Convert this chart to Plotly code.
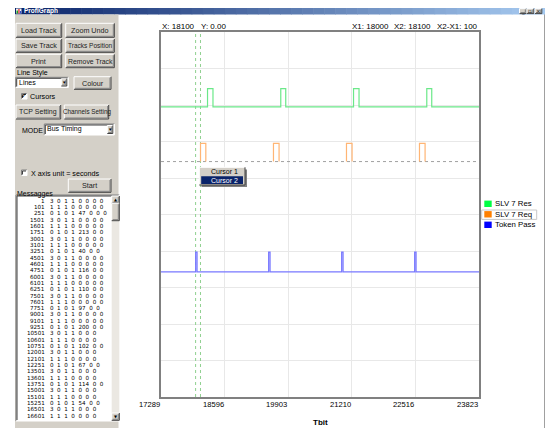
import plotly.graph_objects as go

# ---------------- data ----------------
x_tick_vals = [17289, 18596, 19903, 21210, 22516, 23823]
x_title = "Tbit"
series_names = ["SLV 7 Res", "SLV 7 Req", "Token Pass"]

res_rise = [18245, 19750, 21245, 22750]
res_fall = [18357, 19852, 21358, 22852]
res_low, res_high = 7.95, 8.45

req_rise = [18101, 19600, 21100, 22600]
req_fall = [18210, 19715, 21215, 22715]
req_low, req_high = 6.45, 6.95

tok_rise = [18001, 19501, 21001, 22501]
tok_fall = [18030, 19530, 21030, 22530]
tok_low, tok_high = 3.43, 3.97

cursor_x1, cursor_x2 = 18000, 18100
cursor_y = 0.00

message_times = [1, 101, 251, 1501, 1601, 1751, 3001, 3101, 3251, 4501, 4601, 4751,
                 6001, 6101, 6251, 7501, 7601, 7751, 9001, 9101, 9251, 10501, 10601,
                 10751, 12001, 12101, 12251, 13501, 13601, 13751, 15001, 15101, 15251,
                 16501, 16601]
message_fields = [
    "3 0 1 1 0 0 0 0", "1 1 1 0 0 0 0 0", "0 1 0 1 47 0 0 0",
    "3 0 1 1 0 0 0 0", "1 1 1 0 0 0 0 0", "0 1 0 1 213 0 0",
    "3 0 1 1 0 0 0 0", "1 1 1 0 0 0 0 0", "0 1 0 1 40 0 0",
    "3 0 1 1 0 0 0 0", "1 1 1 0 0 0 0 0", "0 1 0 1 116 0 0",
    "3 0 1 1 0 0 0 0", "1 1 1 0 0 0 0 0", "0 1 0 1 110 0 0",
    "3 0 1 1 0 0 0 0", "1 1 1 0 0 0 0 0", "0 1 0 1 97 0 0",
    "3 0 1 1 0 0 0 0", "1 1 1 0 0 0 0 0", "0 1 0 1 200 0 0",
    "3 0 1 1 0 0 0", "1 1 1 0 0 0 0", "0 1 0 1 102 0 0",
    "3 0 1 1 0 0 0", "1 1 1 0 0 0 0", "0 1 0 1 67 0 0",
    "3 0 1 1 0 0 0", "1 1 1 0 0 0 0", "0 1 0 1 114 0 0",
    "3 0 1 1 0 0 0", "1 1 1 0 0 0 0", "0 1 0 1 54 0 0",
    "3 0 1 1 0 0 0", "1 1 1 0 0 0 0",
]

# ---------------- geometry / style ----------------
# screen coordinates: the page body has an 8px margin, so the figure is 8px smaller
BODY = 8
SW, SH = 553, 428
W, H = SW - BODY, SH - BODY
PL, PR, PT, PB = 161, 479, 32, 397          # plot box in screen pixels
ML, MR, MT, MB = PL - BODY, SW - PR, PT - BODY, SH - PB
PW, PH = PR - PL, PB - PT
FONT = "Liberation Sans"
PANEL = "#d4d0c8"
C_RES, C_REQ, C_TOK = "#6be889", "#ffb574", "#7878ff"


def fx(p):
    return (p - PL) / PW


def fy(p):
    return (PB - p) / PH


shapes, anns = [], []


def rect(x0, y0, x1, y1, fill, line=None, lw=1, dash="solid"):
    shapes.append(dict(type="rect", xref="paper", yref="paper",
                       x0=fx(x0), x1=fx(x1), y0=fy(y1), y1=fy(y0),
                       fillcolor=fill,
                       line=dict(color=line if line else fill, width=lw if line else 0, dash=dash)))


def seg(x0, y0, x1, y1, color, lw=1, dash="solid"):
    shapes.append(dict(type="line", xref="paper", yref="paper",
                       x0=fx(x0), y0=fy(y0), x1=fx(x1), y1=fy(y1),
                       line=dict(color=color, width=lw, dash=dash)))


def text(x, y, s, size=8, color="#000000", anchor="left", bold=False, family=FONT):
    anns.append(dict(xref="paper", yref="paper", x=fx(x), y=fy(y),
                     text=f"<b>{s}</b>" if bold else s, showarrow=False,
                     xanchor=anchor, yanchor="middle", borderpad=0,
                     font=dict(size=size, color=color, family=family)))


def raised(x0, y0, x1, y1):
    rect(x0, y0, x1, y1, PANEL)
    seg(x0, y0, x1, y0, "#ffffff")
    seg(x0, y0, x0, y1, "#ffffff")
    seg(x0, y1, x1, y1, "#404040")
    seg(x1, y0, x1, y1, "#404040")
    seg(x0 + 1, y1 - 1, x1 - 1, y1 - 1, "#808080")
    seg(x1 - 1, y0 + 1, x1 - 1, y1 - 1, "#808080")


def button(x0, y0, x1, y1, label, size=7.2):
    raised(x0, y0, x1, y1)
    text((x0 + x1) / 2, (y0 + y1) / 2, label, size=size, color="#222222", anchor="center")


def sunken(x0, y0, x1, y1, fill="#ffffff"):
    rect(x0, y0, x1, y1, fill)
    seg(x0, y0, x1, y0, "#808080")
    seg(x0, y0, x0, y1, "#808080")
    seg(x0 + 1, y0 + 1, x1 - 1, y0 + 1, "#404040")
    seg(x0 + 1, y0 + 1, x0 + 1, y1 - 1, "#404040")
    seg(x0, y1, x1, y1, "#ffffff")
    seg(x1, y0, x1, y1, "#ffffff")


def combo(x0, y0, x1, y1, label):
    sunken(x0, y0, x1, y1)
    text(x0 + 2, (y0 + y1) / 2, label, size=7)
    raised(x1 - 7, y0 + 1.5, x1 - 1.5, y1 - 1.5)
    text(x1 - 4.2, (y0 + y1) / 2 + 0.3, "▼", size=4.5, anchor="center")


def checkbox(x0, y0, size, checked):
    sunken(x0, y0, x0 + size, y0 + size)
    if checked:
        text(x0 + size / 2, y0 + size / 2, "✓", size=7, anchor="center", family="DejaVu Sans")


# ---- window right border ----
seg(544.5, 8, 544.5, 440, "#a0a0a0")

# ---- title bar (gradient approximated by strips) ----
c0, c1 = (10, 36, 106), (166, 202, 240)
n = 48
TB0, TB1 = 8, 14.5
for i in range(n):
    t = i / (n - 1)
    col = "rgb(%d,%d,%d)" % tuple(int(a + (b - a) * t) for a, b in zip(c0, c1))
    xa = 15 + (545 - 15) * i / n
    xb = 15 + (545 - 15) * (i + 1) / n + 0.6
    rect(xa, TB0, xb, TB1, col)
rect(16, 8.5, 21.5, 13.5, "#f0f0f0")
rect(16.5, 10.5, 18, 13.5, "#20a020")
rect(18.3, 9, 19.6, 13.5, "#e03030")
rect(19.9, 11, 21.2, 13.5, "#3050d0")
text(22.5, 11.4, "ProfiGraph", size=6.5, color="#ffffff", bold=True)
for (bx0, bx1, glyph) in [(519.5, 526.3, "_"), (526.8, 533.8, "▫"), (535, 541.8, "×")]:
    raised(bx0, 8.6, bx1, 13.6)
    text((bx0 + bx1) / 2, 11.1, glyph, size=5.5, anchor="center", family="DejaVu Sans")

# ---- left control panel ----
rect(15, TB1, 118.5, 440, PANEL)
button(16, 23.3, 61.7, 37.3, "Load Track")
button(65.7, 23.3, 114.3, 37.3, "Zoom Undo")
button(16, 39, 61.7, 52.3, "Save Track")
button(65.7, 39, 114.3, 52.3, "Tracks Position", size=6.5)
button(16, 54.3, 61.7, 67.7, "Print")
button(65.7, 54.3, 114.3, 67.7, "Remove Track", size=6.9)
text(15.5, 72.8, "Line Style", size=7)
combo(15.7, 77.3, 68.3, 87.5, "Lines")
button(74, 76.7, 111, 89.3, "Colour")
checkbox(21.5, 93.5, 5.5, True)
text(28.5, 96.5, "Cursors", size=7.2)
button(16, 105, 60.7, 119, "TCP Setting", size=7)
button(64.3, 105, 108.7, 119, "Channels Setting", size=6.3)
text(20.5, 130, "MODE", size=7)
combo(44.3, 124, 114.3, 135, "Bus Timing")
checkbox(21.5, 170, 5.5, False)
text(29.5, 173, "X axis unit = seconds", size=7.2)
button(68.3, 179, 111, 192.3, "Start")
text(15.5, 193.5, "Messagges", size=7)

# ---- message list box ----
sunken(16, 195, 119.3, 421)
rect(111.7, 203.3, 119.3, 413, "#ebe8e2")
raised(111.7, 196, 119.3, 203.3)
text(115.5, 199.8, "▲", size=4, anchor="center", family="DejaVu Sans")
raised(111.7, 203.3, 119.3, 220.7)
raised(111.7, 413, 119.3, 420.3)
text(115.5, 416.8, "▼", size=4, anchor="center", family="DejaVu Sans")
for i, (tm, fl) in enumerate(zip(message_times, message_fields)):
    yy = 200.7 + 6.32 * i
    text(45.5, yy, str(tm), size=5.6, anchor="right", family="DejaVu Sans")
    text(48.5, yy, fl.replace(" ", "  "), size=5.6, family="DejaVu Sans")

# ---- readouts above plot ----
text(160.5, 26.5, f"X: {cursor_x2}", size=8)
text(199.5, 26.5, f"Y: {cursor_y:.2f}", size=8)
text(351, 26.5, f"X1: {cursor_x1}", size=8)
text(393, 26.5, f"X2: {cursor_x2}", size=8)
text(478.5, 26.5, f"X2-X1: {cursor_x2 - cursor_x1}", size=8, anchor="right")

# ---- x tick labels (right-aligned at grid lines) and title ----
for v in x_tick_vals:
    anns.append(dict(xref="x", yref="paper", x=v, y=fy(405), text=str(v), showarrow=False,
                     xanchor="right", yanchor="middle", borderpad=0,
                     font=dict(size=7.6, family=FONT, color="#000000")))
text(320, 422.5, x_title, size=8, anchor="center", bold=True)

# ---- legend (drawn manually) ----
legend_cols = ["#00ff44", "#ff8000", "#0000ff"]
for i, (nm, col) in enumerate(zip(series_names, legend_cols)):
    yc = 203.8 + 10.5 * i
    rect(484.3, yc - 3.2, 491.7, yc + 3.2, col)
    text(494, yc, nm, size=7.8)
rect(481.7, 210, 536.7, 219.4, "rgba(0,0,0,0)", line="#c8c8c8", lw=1)

# ---- cursor popup menu ----
rect(201.5, 169.5, 247, 187, "#808080")
rect(199.3, 167.3, 245, 185, PANEL)
seg(199.3, 167.3, 245, 167.3, "#ffffff")
seg(199.3, 167.3, 199.3, 185, "#ffffff")
seg(199.3, 185, 245, 185, "#404040")
seg(245, 167.3, 245, 185, "#404040")
rect(201.2, 176.3, 243, 184, "#0a246a")
text(209.5, 171.3, "Cursor 1", size=7)
text(209.5, 180.2, "Cursor 2", size=7, color="#ffffff")


# ---------------- traces ----------------
def step(rises, falls, lo, hi, x0, x1):
    xs, ys = [x0], [lo]
    for r, f in zip(rises, falls):
        xs += [r, r, f, f]
        ys += [lo, hi, hi, lo]
    xs.append(x1)
    ys.append(lo)
    return xs, ys


def pulses_only(rises, falls, lo, hi):
    xs, ys = [], []
    for r, f in zip(rises, falls):
        xs += [r, r, f, f, None]
        ys += [lo, hi, hi, lo, None]
    return xs, ys


xmin, xmax = x_tick_vals[0], x_tick_vals[-1]
fig = go.Figure()

for cx in (cursor_x1, cursor_x2):
    fig.add_trace(go.Scatter(x=[cx, cx], y=[0, 10], mode="lines", hoverinfo="skip",
                             line=dict(color="#8fd08f", width=1, dash="dot"), showlegend=False))

gx, gy = step(res_rise, res_fall, res_low, res_high, xmin, xmax)
fig.add_trace(go.Scatter(x=gx, y=gy, mode="lines", name=series_names[0],
                         line=dict(color=C_RES, width=1.2), showlegend=False))

fig.add_trace(go.Scatter(x=[xmin, xmax], y=[req_low, req_low], mode="lines", hoverinfo="skip",
                         line=dict(color="#a0a0a0", width=1, dash="dot"), showlegend=False))
ox, oy = pulses_only(req_rise, req_fall, req_low, req_high)
fig.add_trace(go.Scatter(x=ox, y=oy, mode="lines", name=series_names[1],
                         line=dict(color=C_REQ, width=1.2), showlegend=False))

bx, by = step(tok_rise, tok_fall, tok_low, tok_high, xmin, xmax)
fig.add_trace(go.Scatter(x=bx, y=by, mode="lines", name=series_names[2],
                         line=dict(color=C_TOK, width=1.2), showlegend=False))

fig.update_layout(
    width=W, height=H, autosize=False,
    margin=dict(l=ML, r=MR, t=MT, b=MB, pad=0),
    paper_bgcolor="#ffffff", plot_bgcolor="#ffffff",
    shapes=shapes, annotations=anns,
    font=dict(family=FONT, size=8, color="#000000"),
    xaxis=dict(range=[xmin, xmax], tickvals=x_tick_vals, showticklabels=False, ticks="",
               showgrid=True, gridcolor="#e8e8e8", gridwidth=1, zeroline=False,
               showline=True, mirror=True, linecolor="#808080", linewidth=1.5, fixedrange=True),
    yaxis=dict(range=[0, 10], tick0=0, dtick=1, showticklabels=False, ticks="",
               showgrid=True, gridcolor="#e8e8e8", gridwidth=1, zeroline=False,
               showline=True, mirror=True, linecolor="#808080", linewidth=1.5, fixedrange=True),
)

fig.write_html("out.html")
